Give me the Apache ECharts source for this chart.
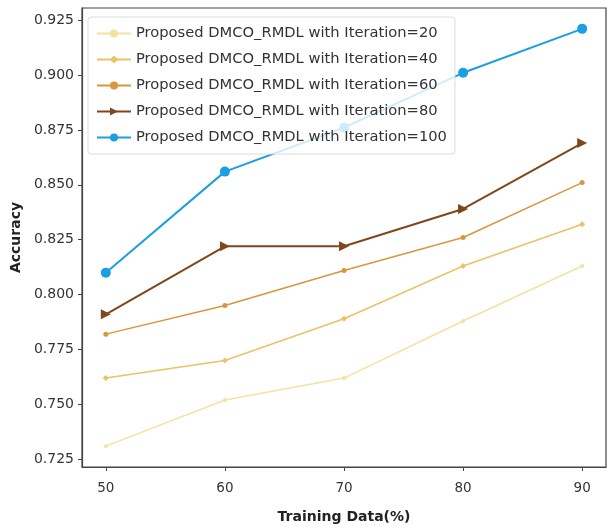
<!DOCTYPE html>
<html>
<head>
<meta charset="utf-8">
<script src="https://cdn.jsdelivr.net/npm/echarts@6/dist/echarts.min.js"></script>
<style>
  html, body { margin: 0; padding: 0; background: #fff; }
  #main { width: 608px; height: 529px; }
</style>
</head>
<body>
<div id="main"></div>
<script>
// 训练数据比例 (x)
var trainingData = [50, 60, 70, 80, 90]
var yTicks = [0.725, 0.75, 0.775, 0.8, 0.825, 0.85, 0.875, 0.9, 0.925]

// 各迭代次数下的准确率
var iter20 = [0.731, 0.752, 0.762, 0.788, 0.813]
var iter40 = [0.762, 0.770, 0.789, 0.813, 0.832]
var iter60 = [0.782, 0.795, 0.811, 0.826, 0.851]
var iter80 = [0.791, 0.822, 0.822, 0.839, 0.869]
var iter100 = [0.810, 0.856, 0.876, 0.901, 0.921]

var names = [
  'Proposed DMCO_RMDL with Iteration=20',
  'Proposed DMCO_RMDL with Iteration=40',
  'Proposed DMCO_RMDL with Iteration=60',
  'Proposed DMCO_RMDL with Iteration=80',
  'Proposed DMCO_RMDL with Iteration=100'
]

function pairs(vals) {
  return trainingData.map(function (x, i) { return [x, vals[i]] })
}

var chart = echarts.init(document.getElementById('main'))
var font = 'DejaVu Sans'

var option = {
  animation: false,
  textStyle: { fontFamily: font },
  color: ['#f3e2a2', '#e9c366', '#d9963e', '#80461c', '#1c9fe0'],
  grid: {
    left: 82,
    right: 2,
    top: 8,
    bottom: 60,
    show: true,
    borderColor: '#444',
    borderWidth: 1.2,
    backgroundColor: 'transparent'
  },
  legend: {
    orient: 'vertical',
    left: 88,
    top: 17,
    itemWidth: 34,
    itemHeight: 10,
    itemGap: 11,
    padding: [9, 8, 9, 8],
    backgroundColor: 'rgba(255,255,255,0.8)',
    borderColor: '#ddd',
    borderWidth: 1,
    borderRadius: 3,
    textStyle: { fontFamily: font, fontSize: 14.7, color: '#333' },
    data: names
  },
  xAxis: {
    type: 'value',
    min: 48,
    max: 92,
    name: 'Training Data(%)',
    nameLocation: 'middle',
    nameGap: 43,
    nameTextStyle: { fontFamily: font, fontSize: 14, fontWeight: 'bold', color: '#222' },
    splitLine: { show: false },
    axisLine: { show: true, lineStyle: { color: '#444', width: 1.2 } },
    axisTick: { show: true, length: 4, customValues: trainingData, lineStyle: { color: '#444' } },
    axisLabel: { customValues: trainingData, fontSize: 13.5, color: '#333', margin: 14 }
  },
  yAxis: {
    type: 'value',
    min: 0.7215,
    max: 0.9305,
    name: 'Accuracy',
    nameLocation: 'middle',
    nameGap: 57,
    nameTextStyle: { fontFamily: font, fontSize: 14, fontWeight: 'bold', color: '#222' },
    splitLine: { show: false },
    axisLine: { show: true, lineStyle: { color: '#444', width: 1.2 } },
    axisTick: { show: true, length: 4, customValues: yTicks, lineStyle: { color: '#444' } },
    axisLabel: {
      customValues: yTicks,
      fontSize: 14,
      color: '#333',
      margin: 8,
      formatter: function (v) { return v.toFixed(3) }
    }
  },
  series: [
    { name: names[0], type: 'line', symbol: 'circle', symbolSize: 4, lineStyle: { width: 1.5 }, data: pairs(iter20) },
    { name: names[1], type: 'line', symbol: 'diamond', symbolSize: 6, lineStyle: { width: 1.5 }, data: pairs(iter40) },
    { name: names[2], type: 'line', symbol: 'circle', symbolSize: 5, lineStyle: { width: 1.5 }, data: pairs(iter60) },
    { name: names[3], type: 'line', symbol: 'triangle', symbolRotate: -90, symbolSize: 10, lineStyle: { width: 2 }, data: pairs(iter80) },
    { name: names[4], type: 'line', symbol: 'circle', symbolSize: 10, lineStyle: { width: 2 }, data: pairs(iter100) }
  ]
}

chart.setOption(option)
</script>
</body>
</html>
